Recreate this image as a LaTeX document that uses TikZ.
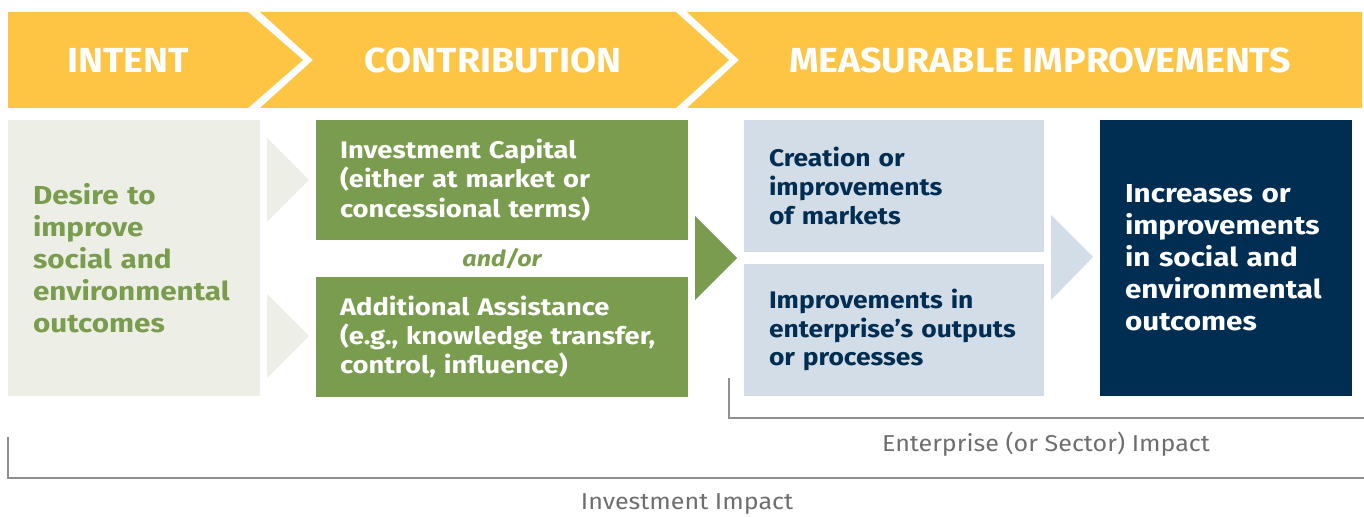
\documentclass[tikz,border=0pt]{standalone}
\usepackage{fontspec}
\setmainfont{Fira Sans}
\newfontfamily\boxfont{Fira Sans}[FakeStretch=1.14]
\newfontfamily\bluefont{Fira Sans}[FakeStretch=1.1]
\newfontfamily\headfont{Fira Sans}[FakeStretch=1.08]
\newfontfamily\labelfont{Fira Sans}[FakeStretch=1.09]
\usetikzlibrary{positioning, calc}
\definecolor{bannerYellow}{HTML}{FDC543}
\definecolor{leafGreen}{HTML}{7A9C4E}
\definecolor{paleGreen}{HTML}{EDEFE7}
\definecolor{paleBlue}{HTML}{D3DDE7}
\definecolor{deepNavy}{HTML}{002D52}
\definecolor{labelGray}{HTML}{6E6E6E}
\definecolor{ruleGray}{HTML}{8F8F8F}
\tikzstyle{headtext} = [text=white, font=\headfont\fontsize{17.4}{20}\selectfont\bfseries]
\tikzstyle{intentbox} = [rectangle, outer sep=0pt, fill=paleGreen, minimum width=126pt, minimum height=138pt, text width=101pt, inner xsep=12.5pt, align=left, text=leafGreen, font=\boxfont\fontsize{13}{16}\selectfont\bfseries]
\tikzstyle{greenbox} = [rectangle, outer sep=0pt, fill=leafGreen, minimum width=186pt, minimum height=60pt, text width=162pt, inner xsep=12pt, align=left, text=white, font=\boxfont\fontsize{12}{14.6}\selectfont\bfseries]
\tikzstyle{bluebox} = [rectangle, outer sep=0pt, fill=paleBlue, minimum width=150pt, minimum height=66pt, text width=125pt, inner xsep=12.5pt, align=left, text=deepNavy, font=\bluefont\fontsize{12}{14.3}\selectfont\bfseries]
\tikzstyle{navybox} = [rectangle, outer sep=0pt, fill=deepNavy, minimum width=126pt, minimum height=138pt, text width=101pt, inner xsep=12.5pt, align=left, text=white, font=\boxfont\fontsize{13}{16}\selectfont\bfseries]
\tikzstyle{andortext} = [text=leafGreen, font=\boxfont\fontsize{11}{13}\selectfont\bfseries\itshape]
\tikzstyle{impactlabel} = [text=labelGray, font=\labelfont\fontsize{11.5}{14}\selectfont]
\tikzstyle{bracket} = [draw=ruleGray, line width=0.75pt]

\begin{document}
\begin{tikzpicture}[x=0.5pt, y=-0.5pt]
\useasboundingbox (0,0) rectangle (1364,517);
% banner
\fill[bannerYellow] (8,12) -- (248,12) -- (303,60) -- (248,108) -- (8,108) -- cycle;
\fill[bannerYellow] (260,12) -- (676,12) -- (729,60) -- (676,108) -- (260,108) -- (313,60) -- cycle;
\fill[bannerYellow] (687,12) -- (1362,12) -- (1362,108) -- (687,108) -- (739,60) -- cycle;
\node (intenthead) [headtext] at (128,60) {INTENT};
\node (contribhead) [headtext] at (493,60) {CONTRIBUTION};
\node (measurehead) [headtext] at (1040,60) {MEASURABLE IMPROVEMENTS};

% boxes
\node (intent) [intentbox, anchor=north west] at (8,120) {Desire to\\improve\\social and\\environmental\\outcomes};
\node (capital) [greenbox, right=28pt of intent.north east, anchor=north west] {Investment Capital\\(either at market or\\concessional terms)};
\node (assist) [greenbox, below=18.5pt of capital] {Additional Assistance\\(e.g., knowledge transfer,\\control, influence)};
\node (andor) [andortext] at ($(capital.south)!.5!(assist.north)$) {and/or};
\node (markets) [bluebox, right=28pt of capital.north east, anchor=north west] {Creation or\\improvements\\of markets};
\node (outputs) [bluebox, below=6pt of markets] {Improvements in\\enterprise’s outputs\\or processes};
\node (outcomes) [navybox, right=28pt of markets.north east, anchor=north west] {Increases or\\improvements\\in social and\\environmental\\outcomes};

% arrows
\fill[paleGreen] (267,138) -- (309,180) -- (267,222) -- cycle;
\fill[paleGreen] (267,294) -- (309,336) -- (267,378) -- cycle;
\fill[leafGreen] (695,216) -- (737,258) -- (695,300) -- cycle;
\fill[paleBlue] (1051,215) -- (1093,257) -- (1051,300) -- cycle;

% brackets
\coordinate (entTop) at (729,378);
\coordinate (entEnd) at (1364,418);
\coordinate (invTop) at (8,437);
\coordinate (invEnd) at (1364,478);
\draw[bracket] (entTop) |- (entEnd);
\draw[bracket] (invTop) |- (invEnd);
\node (entlabel) [impactlabel] at (1046,444) {Enterprise (or Sector) Impact};
\node (invlabel) [impactlabel] at (687,504) {Investment Impact};
\end{tikzpicture}
\end{document}
